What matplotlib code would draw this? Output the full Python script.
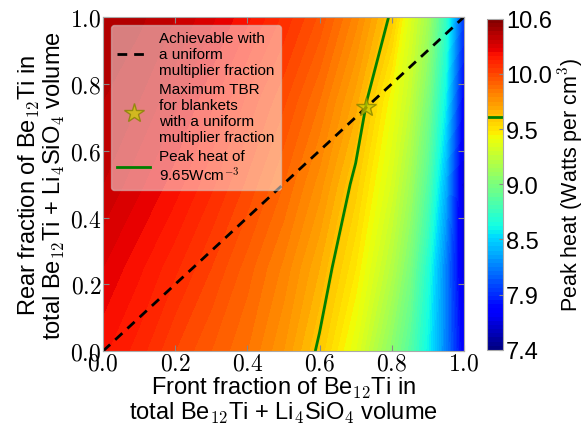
import numpy as np
import matplotlib
matplotlib.use("Agg")
import matplotlib.pyplot as plt
from matplotlib.lines import Line2D
from matplotlib.ticker import FuncFormatter

plt.rcParams['font.family'] = ['Liberation Sans', 'DejaVu Sans']
plt.rcParams['mathtext.fontset'] = 'cm'

# Grid of front (x) and rear (y) fractions
front_frac = [0.0, 0.1, 0.2, 0.3, 0.4, 0.5, 0.6, 0.7, 0.8, 0.85, 0.9, 0.95, 1.0]
rear_frac = [0.0, 0.25, 0.5, 0.75, 1.0]

# Peak heat (W/cm^3), rows = rear fraction, columns = front fraction
heat_r0 = [10.25, 10.18, 10.08, 10.00, 9.92, 9.80, 9.63, 9.40, 9.05, 8.85, 8.57, 8.20, 7.75]
heat_r25 = [10.32, 10.25, 10.17, 10.08, 9.98, 9.87, 9.72, 9.52, 9.22, 9.00, 8.66, 8.20, 7.65]
heat_r50 = [10.40, 10.33, 10.26, 10.17, 10.07, 9.96, 9.82, 9.62, 9.35, 9.15, 8.85, 8.35, 7.60]
heat_r75 = [10.44, 10.40, 10.33, 10.25, 10.15, 10.05, 9.92, 9.74, 9.45, 9.28, 9.00, 8.55, 7.75]
heat_r100 = [10.48, 10.45, 10.40, 10.33, 10.25, 10.15, 10.03, 9.86, 9.63, 9.38, 9.15, 8.72, 7.95]

peak_level = 9.65
star_point = [0.73, 0.73]
uniform_line = [0.0, 1.0]

cbar_ticks = [7.4, 7.9333, 8.4667, 9.0, 9.5333, 10.0667, 10.6]
cbar_labels = ['7.4', '7.9', '8.5', '9.0', '9.5', '10.0', '10.6']
axis_ticks = [0.0, 0.2, 0.4, 0.6, 0.8, 1.0]

Z = np.array([heat_r0, heat_r25, heat_r50, heat_r75, heat_r100])
X, Y = np.meshgrid(front_frac, rear_frac)

fig = plt.figure(figsize=(5.85, 4.31), dpi=100)
ax = fig.add_axes([0.176, 0.183, 0.617, 0.775])
cax = fig.add_axes([0.8325, 0.186, 0.0274, 0.768])

levels = np.linspace(7.4, 10.6, 81)
cf = ax.contourf(X, Y, Z, levels=levels, cmap='jet', vmin=7.4, vmax=10.6)
cs = ax.contour(X, Y, Z, levels=[peak_level], colors=['green'], linewidths=2)
ax.plot(uniform_line, uniform_line, color='black', ls='--', lw=2, dashes=(3.5, 2.5))
ax.plot([star_point[0]], [star_point[1]], marker='*', ms=15, color='#cccc00',
        markeredgecolor='#808000', alpha=0.75, ls='none')

ax.set_xlim(0, 1)
ax.set_ylim(0, 1)
ax.set_xticks(axis_ticks)
ax.set_yticks(axis_ticks)
fmt = FuncFormatter(lambda v, p: r'$%.1f$' % v)
ax.xaxis.set_major_formatter(fmt)
ax.yaxis.set_major_formatter(fmt)
ax.tick_params(direction='in', top=True, right=True, labelsize=17, color='#888888',
               length=4, pad=1)
for s in ax.spines.values():
    s.set_color('#aaaaaa')

ax.set_xlabel('Front fraction of Be$_{12}$Ti in\ntotal Be$_{12}$Ti + Li$_4$SiO$_4$ volume',
              fontsize=17, labelpad=0, linespacing=1.0)
ax.set_ylabel('Rear fraction of Be$_{12}$Ti in\ntotal Be$_{12}$Ti + Li$_4$SiO$_4$ volume',
              fontsize=17, labelpad=2, linespacing=1.0)

handles = [
    Line2D([], [], color='black', ls='--', lw=2, dashes=(3.5, 2.5)),
    Line2D([], [], marker='*', ms=15, color='#cccc00', markeredgecolor='#808000',
           alpha=0.75, ls='none'),
    Line2D([], [], color='green', lw=2),
]
labels = ['Achievable with\na uniform\nmultiplier fraction',
          'Maximum TBR\nfor blankets\nwith a uniform\nmultiplier fraction',
          'Peak heat of\n9.65Wcm$^{-3}$']
leg = ax.legend(handles, labels, loc='upper left', fontsize=11, framealpha=0.5,
                edgecolor='#cccccc', fancybox=True, borderaxespad=0.5,
                handlelength=2.2, labelspacing=0.3, handletextpad=0.6,
                borderpad=0.4)

cb = fig.colorbar(cf, cax=cax, ticks=cbar_ticks)
cb.add_lines(cs)
cb.ax.set_yticklabels(cbar_labels)
cb.ax.tick_params(labelsize=17, direction='in', color='#888888', length=3, pad=2)
cb.outline.set_edgecolor('#aaaaaa')
cb.set_label('Peak heat (Watts per cm$^3$)', fontsize=15.5, labelpad=3)

fig.savefig('out.png', dpi=100)
